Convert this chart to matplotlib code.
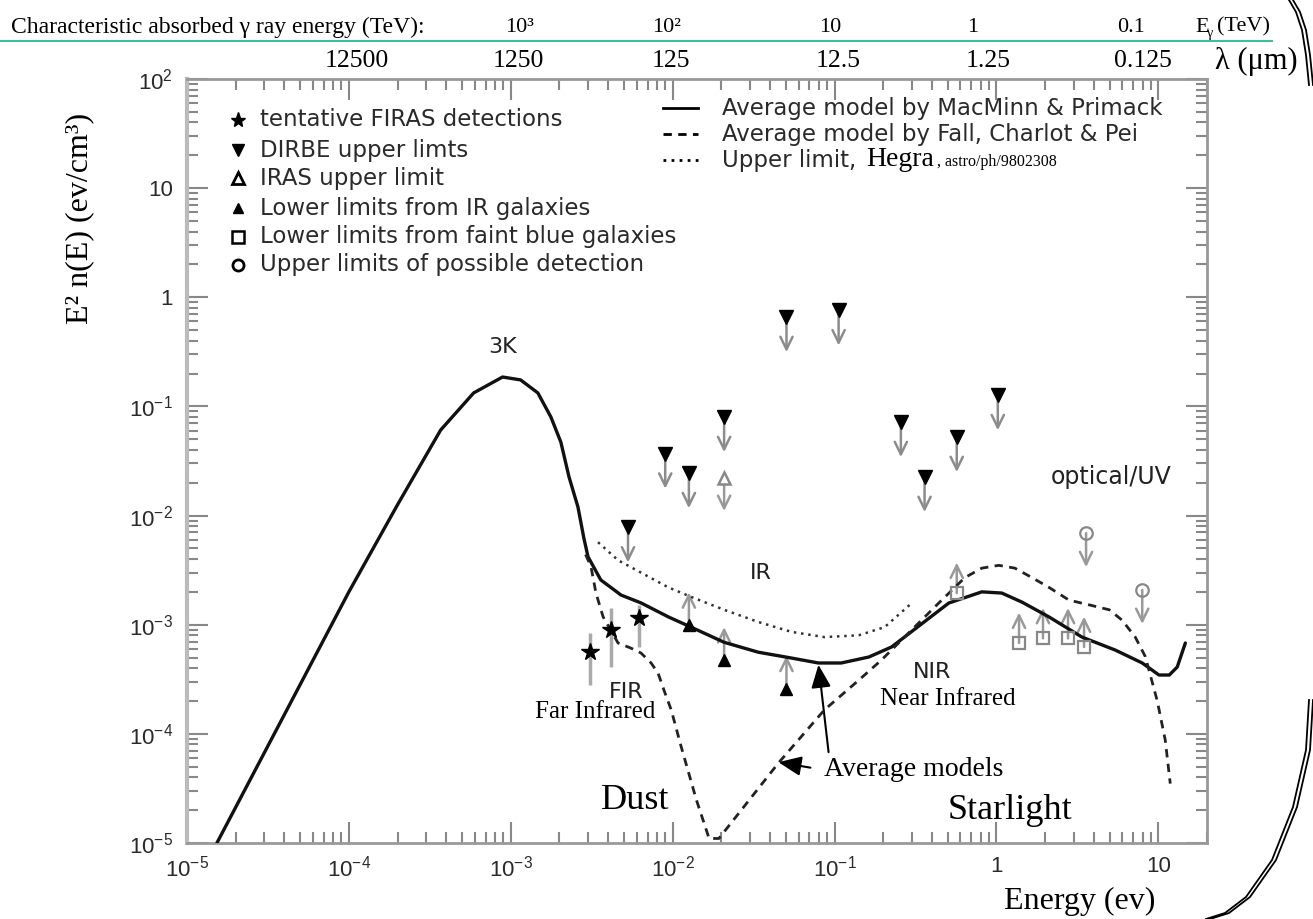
import numpy as np
import matplotlib
matplotlib.use("Agg")
import matplotlib.pyplot as plt
from matplotlib.lines import Line2D
from matplotlib.ticker import LogLocator, NullFormatter

plt.rcParams['font.family'] = ['Liberation Sans', 'DejaVu Sans']
plt.rcParams['mathtext.fontset'] = 'custom'
plt.rcParams['mathtext.rm'] = 'Liberation Sans'
plt.rcParams['mathtext.it'] = 'Liberation Sans:italic'
plt.rcParams['mathtext.bf'] = 'Liberation Sans:bold'

# --- data (energy in eV, E^2 n(E) in eV/cm^3) ---
mp_E = [1.53e-5, 1.0e-4, 2.0e-4, 3.69e-4, 5.9e-4, 8.9e-4, 1.15e-3, 1.47e-3, 1.77e-3,
        2.04e-3, 2.29e-3, 2.60e-3, 2.83e-3, 3.0e-3, 3.6e-3, 4.8e-3, 6.4e-3, 9.4e-3,
        0.0130, 0.0208, 0.0338, 0.0542, 0.0796, 0.110, 0.163, 0.225, 0.313, 0.508,
        0.813, 1.08, 1.44, 2.11, 3.38, 5.42, 7.96, 10.1, 11.7, 13.1, 14.7]
mp_y = [1.0e-5, 2.0e-3, 0.0126, 0.0608, 0.133, 0.186, 0.175, 0.133, 0.080,
        0.047, 0.0226, 0.012, 6.2e-3, 4.2e-3, 2.57e-3, 1.87e-3, 1.58e-3, 1.18e-3,
        9.5e-4, 6.9e-4, 5.6e-4, 4.95e-4, 4.46e-4, 4.46e-4, 5.06e-4, 6.25e-4, 9.1e-4, 1.58e-3,
        2.0e-3, 1.95e-3, 1.61e-3, 1.18e-3, 7.7e-4, 5.86e-4, 4.46e-4, 3.46e-4, 3.46e-4, 4.1e-4, 6.8e-4]

fcp_E = [2.9e-3, 3.13e-3, 3.36e-3, 3.72e-3, 4.60e-3, 5.53e-3, 6.38e-3, 7.36e-3, 8.13e-3,
         8.85e-3, 9.8e-3, 0.0113, 0.0140, 0.0168, 0.0193, 0.045, 0.0867, 0.141, 0.195,
         0.287, 0.429, 0.638, 0.813, 1.035, 1.30, 1.66, 2.11, 2.81, 3.74, 4.98, 5.98,
         7.21, 8.32, 9.86, 11.04, 11.86]
fcp_y = [4.4e-3, 3.4e-3, 1.95e-3, 1.18e-3, 6.8e-4, 6.1e-4, 5.5e-4, 4.46e-4, 3.6e-4,
         2.5e-4, 1.66e-4, 7.6e-5, 2.5e-5, 1.1e-5, 1.1e-5, 5.4e-5, 1.66e-4, 3.1e-4, 4.75e-4,
         8.4e-4, 1.52e-3, 2.7e-3, 3.3e-3, 3.5e-3, 3.3e-3, 2.7e-3, 2.2e-3, 1.68e-3, 1.52e-3,
         1.37e-3, 1.1e-3, 7.7e-4, 5.1e-4, 2.0e-4, 8.8e-5, 3.5e-5]

hegra_E = [3.46e-3, 4.6e-3, 6.38e-3, 9.4e-3, 0.0130, 0.0208, 0.0338, 0.0542, 0.0867,
           0.141, 0.204, 0.300]
hegra_y = [5.7e-3, 3.9e-3, 3.0e-3, 2.2e-3, 1.8e-3, 1.37e-3, 1.06e-3, 8.6e-4, 7.7e-4,
           8.0e-4, 9.5e-4, 1.58e-3]

dirbe_E = [0.0053, 0.0090, 0.0126, 0.0208, 0.0505, 0.106, 0.257, 0.360, 0.569, 1.02]
dirbe_y = [7.8e-3, 0.037, 0.0245, 0.080, 0.66, 0.76, 0.072, 0.0226, 0.0525, 0.127]

iras_E = [0.0208]
iras_y = [0.022]

irgal_E = [0.0126, 0.0208, 0.0505]
irgal_y = [9.9e-4, 4.75e-4, 2.6e-4]

blue_E = [0.569, 1.38, 1.94, 2.77, 3.48]
blue_y = [1.95e-3, 6.8e-4, 7.5e-4, 7.5e-4, 6.25e-4]

detect_E = [3.58, 7.96]
detect_y = [6.9e-3, 2.08e-3]

firas_E = [3.1e-3, 4.16e-3, 6.2e-3]
firas_y = [5.6e-4, 8.9e-4, 1.15e-3]
firas_lo = [2.8e-4, 4.1e-4, 6.25e-4]
firas_hi = [8.4e-4, 1.42e-3, 1.52e-3]

x_ticks = [1e-5, 1e-4, 1e-3, 1e-2, 1e-1, 1, 10]
x_tick_labels = ['$10^{-5}$', '$10^{-4}$', '$10^{-3}$', '$10^{-2}$', '$10^{-1}$', '1', '10']
y_ticks = [1e-5, 1e-4, 1e-3, 1e-2, 1e-1, 1, 10, 100]
y_tick_labels = ['$10^{-5}$', '$10^{-4}$', '$10^{-3}$', '$10^{-2}$', '$10^{-1}$', '1', '10', '$10^{2}$']

lam_labels = ['12500', '1250', '125', '12.5', '1.25', '0.125']
lam_px = [357, 518, 671, 838, 988, 1143]
gamma_labels = ['10³', '10²', '10', '1', '0.1']
gamma_px = [519, 667, 830, 973, 1131]

ARROW_DOWN = 2.1   # length of the limit arrows, as a factor in y
ARROW_UP = 2.0

W, H = 1313, 919
SERIF = 'Liberation Serif'
LEG = 'DejaVu Sans'


def ftext(px, py, s, **kw):
    return fig.text(px / W, 1 - py / H, s, **kw)


def arrow(x, y0, y1, color='#8c8c8c'):
    ax.annotate('', xy=(x, y1), xytext=(x, y0),
                arrowprops=dict(arrowstyle='->,head_length=0.45,head_width=0.22',
                                color=color, lw=1.8, shrinkA=0, shrinkB=0,
                                mutation_scale=20))


fig = plt.figure(figsize=(W / 100, H / 100), dpi=100)
ax = fig.add_axes([187 / W, 1 - 843 / H, (1207 - 187) / W, (843 - 79) / H])
ax.set_xscale('log')
ax.set_yscale('log')
ax.set_xlim(1e-5, 20)
ax.set_ylim(1e-5, 1e2)

# curves
ax.plot(mp_E, mp_y, color='#111111', lw=2.4, solid_capstyle='round', zorder=4)
l2, = ax.plot(fcp_E, fcp_y, color='#222222', lw=2.0, zorder=4)
l2.set_dashes([3.0, 2.3])
l3, = ax.plot(hegra_E, hegra_y, color='#333333', lw=1.8, zorder=4)
l3.set_dashes([1.0, 1.9])

# limits and detections
for x, y in zip(dirbe_E, dirbe_y):
    arrow(x, y, y / ARROW_DOWN)
ax.plot(dirbe_E, dirbe_y, 'v', color='black', ms=10, zorder=5)

for x, y in zip(iras_E, iras_y):
    arrow(x, y, y / ARROW_DOWN * 1.05, color='#999999')
ax.plot(iras_E, iras_y, '^', mfc='white', mec='#888888', mew=1.8, ms=9, zorder=5)

for x, y in zip(irgal_E, irgal_y):
    arrow(x, y, y * ARROW_UP, color='#999999')
ax.plot(irgal_E, irgal_y, '^', color='black', ms=8, zorder=5)

for x, y in zip(blue_E, blue_y):
    arrow(x, y, y * 1.9, color='#999999')
ax.plot(blue_E, blue_y, 's', mfc='none', mec='#888888', mew=1.6, ms=8, zorder=5)

for x, y in zip(detect_E, detect_y):
    arrow(x, y, y / 2.05, color='#999999')
ax.plot(detect_E, detect_y, 'o', mfc='none', mec='#888888', mew=1.6, ms=9, zorder=5)

ax.vlines(firas_E, firas_lo, firas_hi, color='#aaaaaa', lw=2.5, zorder=3)
ax.plot(firas_E, firas_y, '*', color='black', ms=13, zorder=5)

# axes style
for s in ax.spines.values():
    s.set_color('#999999')
    s.set_linewidth(2)
ax.spines['left'].set_color('#bbbbbb')
ax.spines['left'].set_linewidth(3)
ax.set_xticks(x_ticks, x_tick_labels)
ax.set_yticks(y_ticks, y_tick_labels)
ax.xaxis.set_minor_locator(LogLocator(base=10, subs=np.arange(2, 10), numticks=20))
ax.yaxis.set_minor_locator(LogLocator(base=10, subs=np.arange(2, 10), numticks=20))
ax.xaxis.set_minor_formatter(NullFormatter())
ax.yaxis.set_minor_formatter(NullFormatter())
ax.tick_params(which='both', direction='in', top=True, right=True, color='#888888', width=1.5)
ax.tick_params(which='major', length=15, labelsize=16, labelcolor='#2a2a2a')
ax.tick_params(which='minor', length=8)
ax.tick_params(axis='x', pad=9)
ax.tick_params(axis='y', pad=10)

# annotations in the plot
lab = dict(fontsize=16, color='#222222', ha='center', va='center', family=LEG)
ax.text(8.9e-4, 0.35, '3K', **lab)
ax.text(0.0353, 3.0e-3, 'IR', **lab)
ax.text(5.15e-3, 2.4e-4, 'FIR', **lab)
ax.text(0.40, 3.7e-4, 'NIR', **lab)
ax.text(5.1, 0.0225, 'optical/UV', **dict(lab, fontsize=17))
ax.text(3.3e-3, 1.58e-4, 'Far Infrared', fontsize=18, ha='center', va='center', family=SERIF)
ax.text(0.50, 2.1e-4, 'Near Infrared', fontsize=18, ha='center', va='center', family=SERIF)
ax.text(0.0867, 4.67e-5, 'Average models', fontsize=20, ha='left', va='center', family=SERIF)
ax.text(3.6e-3, 2.43e-5, 'Dust', fontsize=26, ha='left', va='center', family=SERIF)
ax.text(1.21, 2.0e-5, 'Starlight', fontsize=26, ha='center', va='center', family=SERIF)
ax.annotate('', xy=(0.045, 5.5e-5), xytext=(0.071, 4.9e-5),
            arrowprops=dict(arrowstyle='-|>,head_length=0.7,head_width=0.3', color='black',
                            lw=1.5, shrinkA=0, shrinkB=0, mutation_scale=20))
ax.annotate('', xy=(0.0796, 4.3e-4), xytext=(0.0919, 6.8e-5),
            arrowprops=dict(arrowstyle='-|>,head_length=0.7,head_width=0.3', color='black',
                            lw=1.5, shrinkA=0, shrinkB=0, mutation_scale=20))

# axis titles
ftext(80, 218, 'E² n(E) (ev/cm³)', rotation=90, fontsize=23, family=SERIF, ha='center', va='center')
ftext(1080, 901, 'Energy (ev)', fontsize=23, family=SERIF, ha='center', va='center')

# header: gamma-ray energies and wavelength scale
ftext(11, 27, 'Characteristic absorbed γ ray energy (TeV):', fontsize=17, family=SERIF,
      ha='left', va='center')
for s, px in zip(gamma_labels, gamma_px):
    ftext(px, 27, s, fontsize=16, family=SERIF, ha='center', va='center')
ftext(1195, 27, 'E', fontsize=16, family=SERIF, ha='left', va='center')
ftext(1207, 33, 'γ', fontsize=10, family=SERIF, ha='left', va='center')
ftext(1217, 27, '(TeV)', fontsize=16, family=SERIF, ha='left', va='center')
fig.add_artist(Line2D([0, 1272 / W], [1 - 41 / H, 1 - 41 / H], color='#3dbf9f', lw=1.5))
for s, px in zip(lam_labels, lam_px):
    ftext(px, 61, s, fontsize=18.5, family=SERIF, ha='center', va='center')
ftext(1256, 61, 'λ (μm)', fontsize=22, family=SERIF, ha='center', va='center')

# legend, left block
leg_rows = [120, 150, 178, 208, 237, 265]
leg_marks = [dict(marker='*', color='black', ms=11),
             dict(marker='v', color='black', ms=8),
             dict(marker='^', mfc='white', mec='black', mew=2, ms=8),
             dict(marker='^', color='black', ms=7),
             dict(marker='s', mfc='white', mec='black', mew=1.8, ms=8),
             dict(marker='o', mfc='white', mec='black', mew=2, ms=8)]
leg_texts = ['tentative FIRAS detections', 'DIRBE upper limts', 'IRAS upper limit',
             'Lower limits from IR galaxies', 'Lower limits from faint blue galaxies',
             'Upper limits of possible detection']
for py, mk, s in zip(leg_rows, leg_marks, leg_texts):
    fig.add_artist(Line2D([238 / W], [1 - py / H], linestyle='none', **mk))
    ftext(260, py, s, fontsize=16.5, family=LEG, color='#2a2a2a', ha='left', va='center')

# legend, right block
r_rows = [108, 134, 160]
r_styles = [dict(ls='-'), dict(dashes=[3.0, 2.3]), dict(dashes=[1.0, 1.9])]
r_texts = ['Average model by MacMinn & Primack', 'Average model by Fall, Charlot & Pei',
           'Upper limit,']
for py, st, s in zip(r_rows, r_styles, r_texts):
    fig.add_artist(Line2D([663 / W, 698 / W], [1 - py / H, 1 - py / H], color='black', lw=2, **st))
    t = ftext(722, py, s, fontsize=16.5, family=LEG, color='#2a2a2a', ha='left', va='center')
fig.canvas.draw()
bb = t.get_window_extent()
t2 = fig.text((bb.x1 + 10) / W, 1 - 160 / H, 'Hegra', fontsize=20, family=SERIF,
              ha='left', va='center')
fig.canvas.draw()
bb2 = t2.get_window_extent()
fig.text((bb2.x1 + 3) / W, 1 - 162 / H, ', astro/ph/9802308', fontsize=11.5, family=SERIF,
         ha='left', va='center')

# slide border at the right
top_x = [1293, 1300, 1306, 1310, 1313]
top_y = [0, 12, 30, 55, 85]
bot_x = [1313, 1310, 1297, 1276, 1250, 1229, 1210]
bot_y = [700, 750, 807, 860, 897, 913, 919]
for dx in (0, 4):
    fig.add_artist(Line2D([(v - dx) / W for v in top_x], [1 - v / H for v in top_y],
                          color='black', lw=1.3))
    fig.add_artist(Line2D([(v - dx) / W for v in bot_x], [1 - v / H for v in bot_y],
                          color='black', lw=1.3))

fig.savefig('out.png', dpi=100)
